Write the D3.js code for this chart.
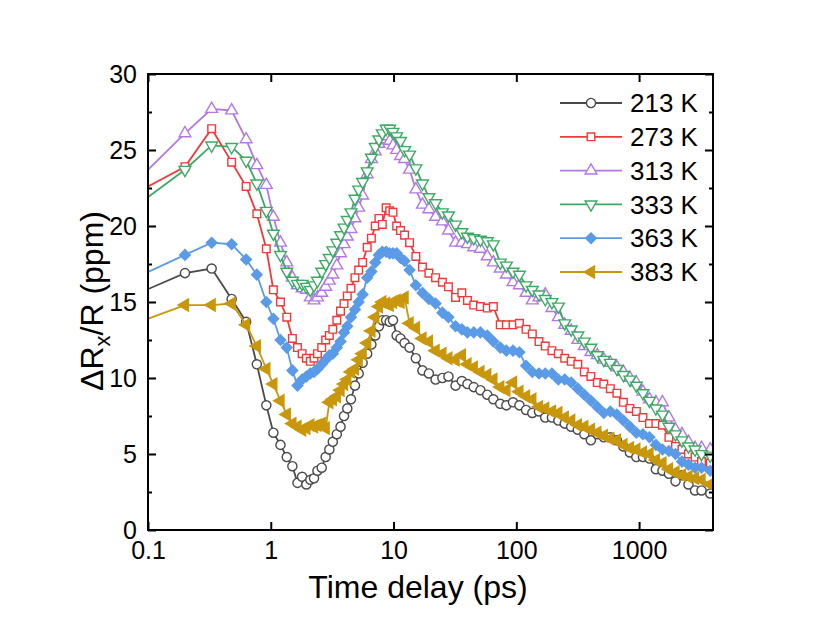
<!DOCTYPE html>
<html>
<head>
<meta charset="utf-8">
<script src="https://cdn.jsdelivr.net/npm/d3@7"></script>
<style>
  body { margin: 0; background: #fff; }
  text { font-family: Arial, "Liberation Sans", sans-serif; fill: #000; }
</style>
</head>
<body>
<div id="chart"></div>
<script>
// time delays (ps), shared by all temperatures
var delays = [
  0.067, 0.2, 0.33, 0.48, 0.63, 0.77, 0.92, 1.05, 1.2, 1.35,
  1.5, 1.65, 1.8, 1.95, 2.1, 2.25, 2.4, 2.6, 2.8, 3.0,
  3.2, 3.45, 3.7, 3.95, 4.2, 4.5, 4.85, 5.2, 5.6, 6.1,
  6.6, 7.1, 7.6, 8.1, 8.7, 9.3, 9.9, 10.6, 11.4, 12.3,
  13.5, 15.2, 17.2, 19.4, 22, 25, 28, 32, 36, 40,
  45, 51, 58, 65, 74, 83, 94, 106, 120, 135,
  153, 172, 195, 220, 248, 280, 317, 358, 405, 457,
  516, 583, 660, 745, 842, 950, 1075, 1215, 1370, 1550,
  1750, 1980, 2235, 2525, 2855, 3225, 3800
];

// dR/R (ppm) for each temperature
var k213 = [
  15.24, 16.9, 17.2, 15.2, 13.7, 10.9, 8.2, 6.4, 5.6, 4.8,
  4.2, 3.1, 3.5, 3.0, 3.3, 3.4, 3.9, 4.1, 4.8, 5.3,
  5.8, 6.3, 6.8, 7.5, 8.0, 8.6, 9.5, 10.3, 11.0, 11.6,
  12.2, 12.8, 13.4, 13.8, 13.8, 13.7, 13.8, 12.8, 12.6, 12.3,
  12.0, 11.3, 10.5, 10.3, 9.9, 10.0, 10.1, 9.5, 9.8, 9.6,
  9.4, 9.2, 8.9, 8.6, 8.3, 8.2, 8.4, 8.2, 7.9, 7.7,
  7.8, 7.4, 7.4, 7.2, 7.0, 6.8, 6.6, 6.3, 5.9, 6.3,
  6.1, 6.1, 5.9, 5.5, 5.1, 4.8, 4.8, 4.7, 4.0, 3.9,
  3.7, 3.2, 3.6, 3.0, 2.6, 2.6, 2.4
];
var k273 = [
  21.85, 23.9, 26.4, 24.2, 22.6, 20.8, 18.5, 15.8, 15.0, 14.0,
  12.6, 12.0, 11.6, 11.3, 11.1, 11.3, 11.6, 12.0, 12.5, 12.8,
  13.2, 13.8, 14.4, 14.9, 15.4, 15.9, 16.6, 17.1, 17.6, 18.6,
  19.2, 20.0, 20.5, 20.1, 21.2, 21.0, 20.9, 20.0, 19.7, 19.4,
  18.9, 18.0, 17.3, 16.9, 16.6, 16.3, 16.0, 15.3, 15.6, 15.1,
  14.8, 14.7, 14.6, 14.7, 13.5, 13.5, 13.5, 13.6, 13.2, 12.9,
  12.4, 12.1, 11.8, 11.6, 11.3, 11.1, 10.9, 10.4, 10.1, 9.7,
  9.6, 9.3, 9.0, 8.4, 8.0, 7.8, 7.4, 7.0, 7.0, 6.9,
  6.1, 5.5, 5.3, 5.0, 4.8, 4.5, 4.4
];
var k313 = [
  22.32, 26.1, 27.7, 27.6, 25.7, 24.0, 22.7, 20.6, 18.9, 17.6,
  16.6, 16.1, 15.9, 15.8, 15.3, 15.1, 15.3, 15.6, 16.0, 16.4,
  16.8, 17.4, 18.2, 18.8, 19.3, 19.8, 20.5, 21.2, 22.0, 23.4,
  24.4, 24.9, 25.4, 25.7, 25.9, 25.6, 25.3, 25.0, 24.6, 24.4,
  23.7, 22.4, 21.4, 21.1, 20.6, 20.3, 19.7, 18.9, 18.9, 18.8,
  18.6, 18.5, 18.0, 17.6, 17.2, 16.8, 16.3, 16.1, 15.6, 15.1,
  15.3, 15.5, 14.6, 14.0, 13.5, 13.1, 12.5, 12.1, 11.7, 11.5,
  11.2, 11.0, 10.7, 10.4, 10.0, 9.7, 9.1, 8.6, 8.4, 8.4,
  7.4, 6.6, 6.3, 5.8, 5.4, 5.4, 5.3
];
var k333 = [
  20.86, 23.7, 25.3, 25.2, 24.3, 22.8, 21.0, 19.5, 18.1, 17.0,
  16.4, 16.2, 16.2, 16.0, 15.8, 16.1, 16.4, 17.0, 17.5, 17.9,
  18.4, 18.9, 19.4, 19.9, 20.4, 20.9, 21.8, 22.4, 22.9, 23.6,
  24.5, 25.2, 25.7, 26.1, 26.4, 26.4, 26.2, 25.9, 25.6, 25.0,
  24.7, 23.8, 22.8, 21.9, 21.5, 20.9, 20.7, 20.1, 19.6, 19.3,
  19.2, 19.1, 19.0, 18.8, 17.6, 17.4, 17.0, 16.8, 16.1, 15.8,
  15.5, 15.2, 15.0, 14.7, 13.6, 13.2, 12.8, 12.4, 12.0, 11.5,
  11.2, 11.0, 10.6, 10.2, 9.9, 9.5, 9.0, 8.5, 8.0, 7.6,
  6.8, 6.3, 5.9, 5.5, 5.3, 5.0, 4.9
];
var k363 = [
  16.32, 18.1, 18.9, 18.8, 17.8, 16.8, 15.0, 13.9, 12.5, 12.0,
  10.5, 9.5, 9.9, 10.1, 10.3, 10.4, 10.6, 10.9, 11.2, 11.5,
  11.6, 12.0, 12.4, 13.0, 13.4, 14.0, 14.5, 15.0, 15.5, 16.6,
  17.0, 17.6, 18.1, 18.3, 18.3, 18.2, 18.2, 18.2, 17.9, 17.7,
  17.1, 16.1, 15.6, 15.2, 14.9, 14.3, 14.0, 13.4, 13.2, 13.0,
  13.0, 13.0, 12.8, 12.4, 12.0, 11.8, 11.8, 11.7, 10.8, 10.4,
  10.3, 10.3, 10.3, 9.9, 9.9, 9.7, 9.3, 8.9, 8.5, 8.1,
  7.7, 7.8, 7.6, 7.2, 6.8, 6.4, 6.3, 6.1, 5.6, 5.3,
  5.2, 5.0, 4.5, 4.3, 4.1, 4.1, 3.9
];
var k383 = [
  13.38, 14.8, 14.8, 14.9, 13.5, 12.1, 10.6, 9.6, 8.5, 7.6,
  7.0, 6.8, 6.6, 6.7, 6.9, 6.8, 6.9, 7.0, 6.7, 8.4,
  8.6, 8.8, 9.2, 9.6, 9.9, 10.4, 10.6, 11.2, 11.6, 12.3,
  13.1, 14.0, 14.7, 15.0, 14.9, 14.8, 15.0, 15.1, 15.0, 15.3,
  13.6, 13.3, 12.6, 12.4, 11.8, 11.6, 11.3, 11.2, 11.5, 10.9,
  10.7, 10.4, 10.2, 9.9, 9.4, 9.2, 9.7, 9.1, 8.8, 8.6,
  8.1, 8.0, 7.8, 7.7, 7.4, 7.2, 6.9, 6.8, 6.6, 6.4,
  6.2, 6.0, 5.9, 5.6, 5.4, 5.3, 5.1, 5.0, 4.6, 4.4,
  4.0, 3.8, 3.6, 3.5, 3.4, 3.3, 3.0
];

var seriesNames = ["213 K", "273 K", "313 K", "333 K", "363 K", "383 K"];
var seriesValues = [k213, k273, k313, k333, k363, k383];
var seriesColors = ["#4a4a4a", "#ee3a3a", "#b478e6", "#3caa64", "#5a9be8", "#c9970c"];

var xTickValues = [0.1, 1, 10, 100, 1000];
var xTickLabels = ["0.1", "1", "10", "100", "1000"];
var yTickValues = [0, 5, 10, 15, 20, 25, 30];
var yMinorTicks = [2.5, 7.5, 12.5, 17.5, 22.5, 27.5];

// marker shapes: symbol type, rotation, filled?, size
var markers = [
  {type: d3.symbolCircle,   rot: 0,   filled: false, size: 66},
  {type: d3.symbolSquare,   rot: 0,   filled: false, size: 58},
  {type: d3.symbolTriangle, rot: 0,   filled: false, size: 60},
  {type: d3.symbolTriangle, rot: 180, filled: false, size: 60},
  {type: d3.symbolSquare,   rot: 45,  filled: true,  size: 56},
  {type: d3.symbolTriangle, rot: -90, filled: true,  size: 62}
];

var margin = {top: 74, right: 117, bottom: 106, left: 148},
    width = 830 - margin.left - margin.right,
    height = 636 - margin.top - margin.bottom;

var svg = d3.select("#chart")
  .append("svg")
    .attr("width", 830)
    .attr("height", 636)
  .append("g")
    .attr("transform", "translate(" + margin.left + "," + margin.top + ")");

var x = d3.scaleLog().domain([0.1, 4000]).range([0, width]);
var y = d3.scaleLinear().domain([0, 30]).range([height, 0]);

svg.append("clipPath").attr("id", "plotclip")
  .append("rect").attr("x", 0).attr("y", 0).attr("width", width).attr("height", height);

// series
var plot = svg.append("g").attr("clip-path", "url(#plotclip)");
var line = d3.line()
  .x(function(d) { return x(d.t); })
  .y(function(d) { return y(d.v); });

seriesValues.forEach(function(vals, i) {
  var pts = delays.map(function(t, j) { return {t: t, v: vals[j]}; });
  var m = markers[i];
  plot.append("path")
    .datum(pts)
    .attr("fill", "none")
    .attr("stroke", seriesColors[i])
    .attr("stroke-width", 1.8)
    .attr("d", line);
  plot.selectAll(".m" + i)
    .data(pts)
    .enter().append("path")
      .attr("class", "m" + i)
      .attr("d", d3.symbol().type(m.type).size(m.size))
      .attr("transform", function(d) {
        return "translate(" + x(d.t) + "," + y(d.v) + ") rotate(" + m.rot + ")";
      })
      .attr("fill", m.filled ? seriesColors[i] : "#fff")
      .attr("stroke", seriesColors[i])
      .attr("stroke-width", 1.4);
});

// axes (ticks inward on all four sides)
function styleAxis(g) {
  g.select(".domain").remove();
  g.selectAll(".tick line").attr("stroke", "#000").attr("stroke-width", 2);
  g.selectAll(".tick text").style("font-size", "25px").attr("fill", "#000");
}

svg.append("g")
  .attr("transform", "translate(0," + height + ")")
  .call(d3.axisBottom(x).tickValues(xTickValues)
    .tickFormat(function(d, i) { return xTickLabels[i]; })
    .tickSizeInner(-8).tickSizeOuter(0).tickPadding(11))
  .call(styleAxis);

svg.append("g")
  .call(d3.axisTop(x).tickValues(xTickValues).tickFormat("")
    .tickSizeInner(-8).tickSizeOuter(0))
  .call(styleAxis);

svg.append("g")
  .call(d3.axisLeft(y).tickValues(yTickValues)
    .tickSizeInner(-8).tickSizeOuter(0).tickPadding(11))
  .call(styleAxis);
svg.append("g")
  .call(d3.axisLeft(y).tickValues(yMinorTicks).tickFormat("")
    .tickSizeInner(-4).tickSizeOuter(0))
  .call(styleAxis);

svg.append("g")
  .attr("transform", "translate(" + width + ",0)")
  .call(d3.axisRight(y).tickValues(yTickValues).tickFormat("")
    .tickSizeInner(-8).tickSizeOuter(0))
  .call(styleAxis);
svg.append("g")
  .attr("transform", "translate(" + width + ",0)")
  .call(d3.axisRight(y).tickValues(yMinorTicks).tickFormat("")
    .tickSizeInner(-4).tickSizeOuter(0))
  .call(styleAxis);

// frame
svg.append("rect")
  .attr("x", 0).attr("y", 0)
  .attr("width", width).attr("height", height)
  .attr("fill", "none")
  .attr("stroke", "#000")
  .attr("stroke-width", 2);

// axis titles
svg.append("text")
  .attr("x", 270)
  .attr("y", height + 68)
  .attr("text-anchor", "middle")
  .style("font-size", "32px")
  .text("Time delay (ps)");

var ytitle = svg.append("text")
  .attr("transform", "translate(-45," + (height / 2 - 1) + ") rotate(-90)")
  .attr("text-anchor", "middle")
  .style("font-size", "32px");
ytitle.append("tspan").text("ΔR");
ytitle.append("tspan").attr("dy", 7).style("font-size", "22px").text("x");
ytitle.append("tspan").attr("dy", -7).text("/R (ppm)");

// legend
var legend = svg.append("g").attr("transform", "translate(412,29)");
seriesNames.forEach(function(name, i) {
  var m = markers[i];
  var row = legend.append("g").attr("transform", "translate(0," + (i * 33.8) + ")");
  row.append("line")
    .attr("x1", 0).attr("x2", 62).attr("y1", 0).attr("y2", 0)
    .attr("stroke", seriesColors[i]).attr("stroke-width", 1.8);
  row.append("path")
    .attr("d", d3.symbol().type(m.type).size(m.size))
    .attr("transform", "translate(31,0) rotate(" + m.rot + ")")
    .attr("fill", m.filled ? seriesColors[i] : "#fff")
    .attr("stroke", seriesColors[i])
    .attr("stroke-width", 1.4);
  row.append("text")
    .attr("x", 70)
    .attr("dy", "0.35em")
    .style("font-size", "26px")
    .text(name);
});
</script>
</body>
</html>
